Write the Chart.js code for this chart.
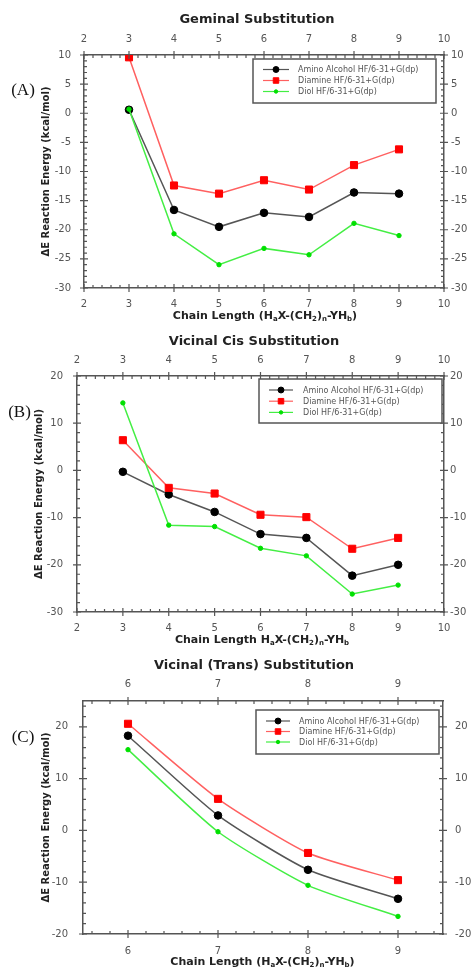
<!DOCTYPE html>
<html><head><meta charset="utf-8">
<script src="https://cdn.jsdelivr.net/npm/chart.js@4.4.1/dist/chart.umd.min.js"></script>
<style>
html,body{margin:0;padding:0;background:#fff;width:474px;height:971px;overflow:hidden}
canvas{position:absolute;left:0}
</style></head><body>
<canvas id="cA" width="474" height="322" style="top:0px"></canvas>
<canvas id="cB" width="474" height="326" style="top:322px"></canvas>
<canvas id="cC" width="474" height="323" style="top:648px"></canvas>
<script>
// ---------- DATA ----------
const seriesNames = ['Amino Alcohol HF/6-31+G(dp)', 'Diamine HF/6-31+G(dp)', 'Diol HF/6-31+G(dp)'];

const chainA = [3, 4, 5, 6, 7, 8, 9];
const aminoA = [0.6, -16.6, -19.5, -17.1, -17.8, -13.6, -13.8];
const diamineA = [9.6, -12.4, -13.8, -11.5, -13.1, -8.9, -6.2];
const diolA = [0.7, -20.7, -26.0, -23.2, -24.3, -18.9, -21.0];
const xTicksA = [2, 3, 4, 5, 6, 7, 8, 9, 10];
const yTicksA = [-30, -25, -20, -15, -10, -5, 0, 5, 10];

const chainB = [3, 4, 5, 6, 7, 8, 9];
const aminoB = [-0.3, -5.1, -8.8, -13.5, -14.3, -22.3, -20.0];
const diamineB = [6.4, -3.7, -4.9, -9.4, -9.9, -16.6, -14.3];
const diolB = [14.3, -11.6, -11.9, -16.5, -18.1, -26.2, -24.3];
const xTicksB = [2, 3, 4, 5, 6, 7, 8, 9, 10];
const yTicksB = [-30, -20, -10, 0, 10, 20];

const chainC = [6, 7, 8, 9];
const aminoC = [18.3, 2.9, -7.6, -13.2];
const diamineC = [20.6, 6.1, -4.35, -9.6];
const diolC = [15.6, -0.25, -10.6, -16.6];
const xTicksC = [6, 7, 8, 9];
const yTicksC = [-20, -10, 0, 10, 20];

const titles = ['Geminal Substitution', 'Vicinal Cis Substitution', 'Vicinal (Trans) Substitution'];
const xTitles = ['Chain Length (H_aX-(CH_2)_n-YH_b)', 'Chain Length H_aX-(CH_2)_n-YH_b', 'Chain Length (H_aX-(CH_2)_n-YH_b)'];
const yTitle = 'ΔE Reaction Energy (kcal/mol)';
const panelLabels = ['(A)', '(B)', '(C)'];

// ---------- STYLE ----------
const W = 474;
const FONT = '"DejaVu Sans", sans-serif';
const AXIS = '#555';
const styles = [
  {borderColor:'#555555', backgroundColor:'#000', pointBackgroundColor:'#000', pointBorderColor:'#000', pointStyle:'circle', pointRadius:3.8, pointBorderWidth:1, borderWidth:1.5},
  {borderColor:'#ff6060', backgroundColor:'#ff0000', pointBackgroundColor:'#ff0000', pointBorderColor:'#ff0000', pointStyle:'rect', pointRadius:5, pointBorderWidth:1, borderWidth:1.5},
  {borderColor:'#44ee44', backgroundColor:'#00e000', pointBackgroundColor:'#00e000', pointBorderColor:'#00e000', pointStyle:'circle', pointRadius:2.2, pointBorderWidth:1, borderWidth:1.5}
];

function drawRich(ctx, text, cx, cy, size) {
  const segs = [];
  for (let i = 0; i < text.length; i++) {
    if (text[i] === '_' && i + 1 < text.length) { segs.push({t:text[i+1], sub:true}); i++; }
    else {
      if (segs.length && !segs[segs.length-1].sub) segs[segs.length-1].t += text[i];
      else segs.push({t:text[i], sub:false});
    }
  }
  const mainF = 'bold ' + size + 'px ' + FONT, subF = 'bold ' + Math.round(size*0.68) + 'px ' + FONT;
  let w = 0;
  segs.forEach(s => { ctx.font = s.sub ? subF : mainF; s.w = ctx.measureText(s.t).width; w += s.w; });
  let x = cx - w/2;
  ctx.textAlign = 'left'; ctx.textBaseline = 'middle';
  segs.forEach(s => { ctx.font = s.sub ? subF : mainF; ctx.fillText(s.t, x, cy + (s.sub ? size*0.32 : 0)); x += s.w; });
}

const deco = {
  id: 'deco',
  afterDraw(chart, args, o) {
    const ctx = chart.ctx, ca = chart.chartArea;
    ctx.save();
    // ticks
    ctx.strokeStyle = AXIS; ctx.lineWidth = 1.2;
    const tickDraw = (id, step) => {
      const s = chart.scales[id];
      const majors = s.ticks.map(t => t.value);
      const horiz = (id === 'x' || id === 'x2');
      const base = id === 'x' ? ca.bottom : id === 'x2' ? ca.top : id === 'y' ? ca.left : ca.right;
      const inw = (id === 'x') ? -1 : (id === 'x2') ? 1 : (id === 'y') ? 1 : -1;
      ctx.beginPath();
      majors.forEach(v => {
        const p = s.getPixelForValue(v);
        if (horiz) { ctx.moveTo(p, base - 4); ctx.lineTo(p, base + 4); }
        else { ctx.moveTo(base - 4, p); ctx.lineTo(base + 4, p); }
      });
      const i0 = Math.ceil(s.min/step - 1e-9), i1 = Math.floor(s.max/step + 1e-9);
      for (let i = i0; i <= i1; i++) {
        const v = i*step;
        if (majors.some(m => Math.abs(m - v) < 1e-6)) continue;
        const p = s.getPixelForValue(v);
        if (horiz) { ctx.moveTo(p, base); ctx.lineTo(p, base + 3*inw); }
        else { ctx.moveTo(base, p); ctx.lineTo(base + 3*inw, p); }
      }
      ctx.stroke();
    };
    tickDraw('x', o.xMinor); tickDraw('x2', o.xMinor);
    tickDraw('y', o.yMinor); tickDraw('y2', o.yMinor);
    // title
    ctx.fillStyle = '#222';
    ctx.font = 'bold 13px ' + FONT; ctx.textAlign = 'center'; ctx.textBaseline = 'middle';
    ctx.fillText(o.title, o.titleX, o.titleY);
    // x title
    drawRich(ctx, o.xTitle, o.xTitleX, o.xTitleY, 11);
    // panel label
    ctx.fillStyle = '#111';
    ctx.font = '17px "Liberation Serif", serif'; ctx.textAlign = 'center'; ctx.textBaseline = 'middle';
    ctx.fillText(o.label, o.labelX, o.labelY);
    // legend
    const L = o.legend;
    ctx.fillStyle = '#fff'; ctx.fillRect(L.x, L.y, L.w, L.h);
    ctx.strokeStyle = '#555'; ctx.lineWidth = 1.5; ctx.strokeRect(L.x, L.y, L.w, L.h);
    chart.data.datasets.forEach((d, i) => {
      const yy = L.y + L.row0 + i*L.gap;
      ctx.strokeStyle = d.borderColor; ctx.lineWidth = 1.2;
      ctx.beginPath(); ctx.moveTo(L.x + L.l0, yy); ctx.lineTo(L.x + L.l1, yy); ctx.stroke();
      ctx.fillStyle = d.pointBackgroundColor; ctx.strokeStyle = d.pointBorderColor; ctx.lineWidth = 1;
      Chart.helpers.drawPoint(ctx, {pointStyle:d.pointStyle, radius:d.pointRadius*0.78, rotation:0, borderWidth:0.5}, L.x + (L.l0 + L.l1)/2, yy);
      ctx.fillStyle = '#555'; ctx.font = '8px ' + FONT; ctx.textAlign = 'left'; ctx.textBaseline = 'middle';
      ctx.fillText(d.label, L.x + L.tx, yy + 0.5);
    });
    ctx.restore();
  }
};

function makePanel(id, p) {
  const H = document.getElementById(id).height;
  const tickFont = {family: FONT, size: 10};
  const common = (ticksArr) => ({
    type:'linear', grid:{display:false, drawTicks:false}, border:{display:true, color:AXIS, width:1.5},
    afterBuildTicks: s => { s.ticks = ticksArr.map(v => ({value:v})); }
  });
  const datasets = p.series.map((ys, i) => Object.assign({
    label: seriesNames[i], data: p.xs.map((x, j) => ({x:x, y:ys[j]})), tension: p.tension, order: 3 - i
  }, styles[i]));
  new Chart(document.getElementById(id), {
    type:'line',
    data:{datasets},
    plugins:[deco],
    options:{
      responsive:false, animation:false, devicePixelRatio:1,
      layout:{padding:0},
      plugins:{legend:{display:false}, title:{display:false}, tooltip:{enabled:false}, deco:p.deco},
      scales:{
        x: Object.assign(common(p.xTicks), {position:'bottom', min:p.xMin, max:p.xMax,
          afterFit: s => { s.height = H - p.plot.b; },
          ticks:{padding:p.xPad, color:AXIS, font:tickFont, autoSkip:false, maxRotation:0}}),
        x2: Object.assign(common(p.xTicks), {position:'top', min:p.xMin, max:p.xMax,
          afterFit: s => { s.height = p.plot.t; },
          ticks:{padding:p.xPad, color:AXIS, font:tickFont, autoSkip:false, maxRotation:0}}),
        y: Object.assign(common(p.yTicks), {position:'left', min:p.yMin, max:p.yMax,
          afterFit: s => { s.width = p.plot.l; },
          ticks:{padding:p.yPadL, color:AXIS, font:tickFont, autoSkip:false},
          title:{display:true, text:yTitle, color:'#222', font:{family:FONT, size:10, weight:'bold'}, padding:{top:p.yTitlePad, bottom:0}}}),
        y2: Object.assign(common(p.yTicks), {position:'right', min:p.yMin, max:p.yMax,
          afterFit: s => { s.width = W - p.plot.r; },
          ticks:{padding:p.yPadR, color:AXIS, font:tickFont, autoSkip:false}})
      }
    }
  });
}

makePanel('cA', {
  xs: chainA, series:[aminoA, diamineA, diolA], xTicks:xTicksA, yTicks:yTicksA,
  xMin:2, xMax:10, yMin:-30, yMax:10, tension:0,
  plot:{l:84, r:444, t:55, b:288}, xPad:10, yPadL:13, yPadR:7, yTitlePad:40.7,
  deco:{xMinor:0.2, yMinor:1, title:titles[0], titleX:257, titleY:20, xTitle:xTitles[0], xTitleX:265, xTitleY:316,
        label:panelLabels[0], labelX:23, labelY:91,
        legend:{x:253, y:59, w:183, h:44, row0:10.5, gap:11, l0:10, l1:36, tx:45}}
});
makePanel('cB', {
  xs: chainB, series:[aminoB, diamineB, diolB], xTicks:xTicksB, yTicks:yTicksB,
  xMin:2, xMax:10, yMin:-30, yMax:20, tension:0,
  plot:{l:77, r:444, t:54, b:290}, xPad:10, yPadL:14, yPadR:6, yTitlePad:33,
  deco:{xMinor:0.2, yMinor:2, title:titles[1], titleX:254, titleY:20, xTitle:xTitles[1], xTitleX:262, xTitleY:318,
        label:panelLabels[1], labelX:19.5, labelY:91,
        legend:{x:259, y:57, w:183, h:44, row0:11, gap:11.2, l0:10, l1:34, tx:44}}
});
makePanel('cC', {
  xs: chainC, series:[aminoC, diamineC, diolC], xTicks:xTicksC, yTicks:yTicksC,
  xMin:5.5, xMax:9.5, yMin:-20, yMax:25, tension:0.2,
  plot:{l:83, r:443, t:53, b:286}, xPad:11, yPadL:15, yPadR:12, yTitlePad:40.7,
  deco:{xMinor:0.2, yMinor:2, title:titles[2], titleX:254, titleY:18, xTitle:xTitles[2], xTitleX:262.5, xTitleY:314,
        label:panelLabels[2], labelX:23, labelY:89.5,
        legend:{x:256, y:62, w:183, h:44, row0:11, gap:10.5, l0:10, l1:34, tx:43}}
});
</script></body></html>
